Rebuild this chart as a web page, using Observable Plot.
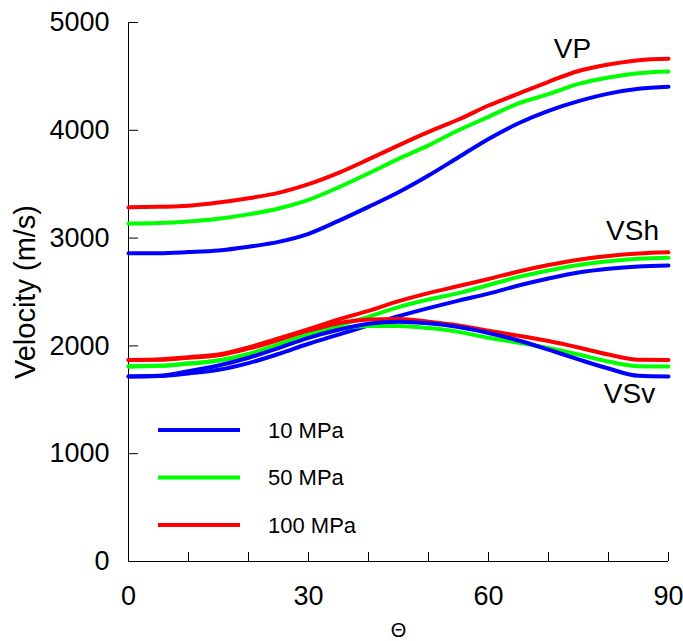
<!DOCTYPE html>
<html><head><meta charset="utf-8">
<script src="https://cdn.jsdelivr.net/npm/d3@7"></script>
<script src="https://cdn.jsdelivr.net/npm/@observablehq/plot@0.6"></script>
<style>
body{margin:0;background:#fff;}
#chart{position:relative;width:683px;height:641px;font-family:"Liberation Sans",Arial,sans-serif;}
#legend{position:absolute;left:0;top:0;pointer-events:none;}
</style>
</head><body><div id="chart"></div>
<script>
// Incidence angle (degrees)
const theta = [0,5,10,15,20,25,30,35,40,45,50,55,60,65,70,75,80,85,90];

// P-wave velocity (m/s)
const vp10  = [2860,2860,2870,2885,2920,2965,3040,3160,3290,3425,3580,3750,3920,4065,4180,4270,4340,4385,4405];
const vp50  = [3135,3140,3155,3180,3220,3275,3355,3470,3600,3735,3860,4000,4125,4250,4335,4430,4490,4530,4545];
const vp100 = [3285,3290,3300,3330,3370,3420,3500,3605,3730,3860,3985,4100,4230,4340,4450,4550,4610,4650,4663];

// Horizontally polarised S-wave velocity (m/s)
const vsh10  = [1716,1720,1745,1778,1840,1925,2020,2105,2190,2275,2350,2420,2485,2560,2625,2680,2715,2737,2746];
const vsh50  = [1810,1815,1835,1865,1920,2010,2105,2190,2270,2360,2430,2490,2565,2640,2700,2750,2785,2808,2817];
const vsh100 = [1870,1875,1895,1920,1985,2070,2155,2245,2325,2415,2490,2555,2620,2690,2750,2800,2835,2858,2869];

// Vertically polarised S-wave velocity (m/s)
const vsv10  = [1716,1722,1765,1818,1890,1980,2075,2150,2205,2225,2210,2175,2120,2050,1965,1875,1790,1722,1716];
const vsv50  = [1810,1815,1838,1865,1925,2015,2105,2160,2185,2185,2165,2130,2075,2030,1980,1920,1855,1812,1809];
const vsv100 = [1870,1872,1890,1912,1975,2055,2140,2210,2245,2250,2225,2190,2140,2095,2045,1985,1920,1872,1870];

const pressures = ["10 MPa","50 MPa","100 MPa"];
const colors = ["#0000ff","#00ff00","#ff0000"];

const xTicks = [0,10,20,30,40,50,60,70,80,90];
const xLabels = [0,30,60,90];
const yTicks = [0,1000,2000,3000,4000,5000];

const waveLabels = ["VP","VSh","VSv"];
const labelTheta = [74,84,83.5];
const labelV = [4750,3065,1555];

const seriesList = [
  ["VP","10 MPa",vp10],["VP","50 MPa",vp50],["VP","100 MPa",vp100],
  ["VSh","10 MPa",vsh10],["VSh","50 MPa",vsh50],["VSh","100 MPa",vsh100],
  ["VSv","100 MPa",vsv100],["VSv","50 MPa",vsv50],["VSv","10 MPa",vsv10]
];
const rows = [];
for (const [wave, p, vals] of seriesList) {
  vals.forEach((v, i) => rows.push({wave, pressure: p, key: wave + p, theta: theta[i], v}));
}
const annotations = waveLabels.map((t, i) => ({text: t, x: labelTheta[i], y: labelV[i]}));

const chart = Plot.plot({
  width: 683, height: 641,
  marginLeft: 128, marginRight: 15, marginTop: 22, marginBottom: 80,
  style: {fontFamily: "'Liberation Sans', Arial, sans-serif", background: "white", color: "black"},
  x: {domain: [0, 90]},
  y: {domain: [0, 5000]},
  color: {domain: pressures, range: colors},
  marks: [
    Plot.axisX({ticks: xLabels, tickSize: 0, tickPadding: 24, fontSize: 27, label: null, tickFormat: d => String(d)}),
    Plot.axisY({ticks: yTicks, tickSize: 0, tickPadding: 19, fontSize: 27, label: null, tickFormat: d => String(d)}),
    Plot.tickX(xTicks, {x: d => d, insetTop: 530, stroke: "black"}),
    Plot.tickY(yTicks, {y: d => d, insetRight: 530, stroke: "black"}),
    Plot.ruleX([0], {stroke: "black"}),
    Plot.ruleY([0], {stroke: "black"}),
    Plot.line(rows, {x: "theta", y: "v", z: "key", stroke: "pressure", strokeWidth: 4, curve: "monotone-x"}),
    Plot.text(annotations, {x: "x", y: "y", text: "text", fontSize: 28, fill: "black"}),
    Plot.text(["Velocity (m/s)"], {text: d => d, frameAnchor: "left", textAnchor: "middle", lineAnchor: "middle", rotate: -90, dx: -103, fontSize: 29, fill: "black"}),
    Plot.text(["\u0398"], {text: d => d, frameAnchor: "bottom", textAnchor: "middle", lineAnchor: "middle", dy: 69, fontSize: 20, fill: "black"})
  ]
});
const root = document.getElementById("chart");
root.appendChild(chart);

// Legend overlay
const leg = d3.select(root).append("svg").attr("id", "legend").attr("width", 683).attr("height", 641);
pressures.forEach((p, i) => {
  const y = 430 + i * 47.5;
  leg.append("line").attr("x1", 158).attr("x2", 240).attr("y1", y).attr("y2", y)
    .attr("stroke", colors[i]).attr("stroke-width", 4);
  leg.append("text").attr("x", 268).attr("y", y).attr("dy", "0.35em")
    .attr("font-size", 22).attr("font-family", "'Liberation Sans', Arial, sans-serif")
    .attr("fill", "black").text(p);
});
</script>
</body></html>
